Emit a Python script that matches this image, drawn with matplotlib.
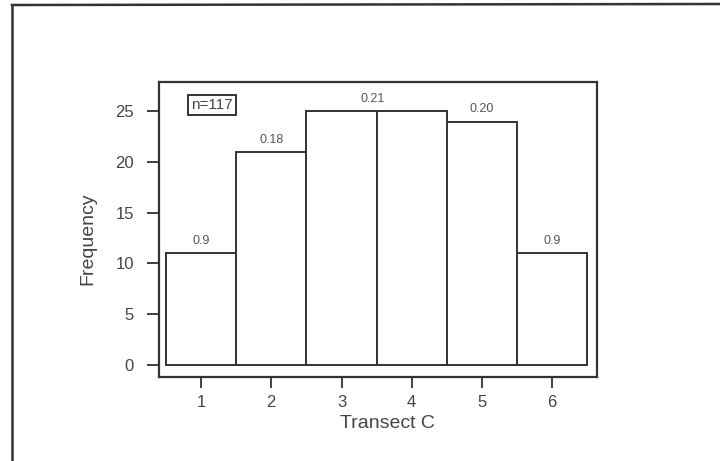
import matplotlib
matplotlib.use('Agg')
import matplotlib.pyplot as plt
from matplotlib.lines import Line2D

plt.rcParams['font.family'] = ['Liberation Sans', 'DejaVu Sans']

# histogram data (Transect C)
categories = [1, 2, 3, 4, 5, 6]
counts = [11, 21, 25, 25, 24, 11]
prop_labels = ['0.9', '0.18', '0.21', '0.20', '0.9']
prop_x = [1, 2, 3.45, 5, 6]
prop_y = [11, 21, 25, 24, 11]
yticks = [0, 5, 10, 15, 20, 25]
n_text = 'n=117'

INK = '#333333'
TXT = '#444444'

fig = plt.figure(figsize=(7.2, 4.61), dpi=100)
ax = fig.add_axes([159 / 720, 1 - 377 / 461, (597 - 159) / 720, (377 - 82) / 461])

ax.bar(categories, counts, width=1.0, color='white', edgecolor=INK, linewidth=1.4)
for x, y, s in zip(prop_x, prop_y, prop_labels):
    ax.text(x, y + 0.6, s, ha='center', va='bottom', fontsize=9, color='#555555')

ax.text(1.15, 25.6, n_text, ha='center', va='center', fontsize=11, color=TXT,
        bbox=dict(boxstyle='square,pad=0.2', fc='white', ec=INK, lw=1.4))

ax.set_xlim(0.4, 6.64)
ax.set_ylim(-1.2, 27.9)
ax.set_xticks(categories)
ax.set_yticks(yticks)
ax.tick_params(axis='y', direction='out', length=9, width=1.3, color=INK,
               labelsize=12, labelcolor=TXT, pad=9)
ax.tick_params(axis='x', direction='out', length=8, width=1.3, color=INK,
               labelsize=12, labelcolor=TXT, pad=5)
for sp in ax.spines.values():
    sp.set_linewidth(1.6)
    sp.set_color(INK)
ax.set_xlabel('Transect C', fontsize=14, color=TXT)
ax.xaxis.set_label_coords(0.522, -0.13)
ax.set_ylabel('Frequency', fontsize=14, color=TXT)
ax.yaxis.set_label_coords(-0.142, 0.468)

# outer frame of the scanned figure (left and top edges)
fig.add_artist(Line2D([12 / 720, 12 / 720], [0, 1 - 5 / 461], transform=fig.transFigure,
                      color=INK, lw=1.8))
fig.add_artist(Line2D([12 / 720, 1], [1 - 5 / 461, 1 - 4 / 461], transform=fig.transFigure,
                      color=INK, lw=1.8))

plt.savefig('out.png', dpi=100)
plt.close()
